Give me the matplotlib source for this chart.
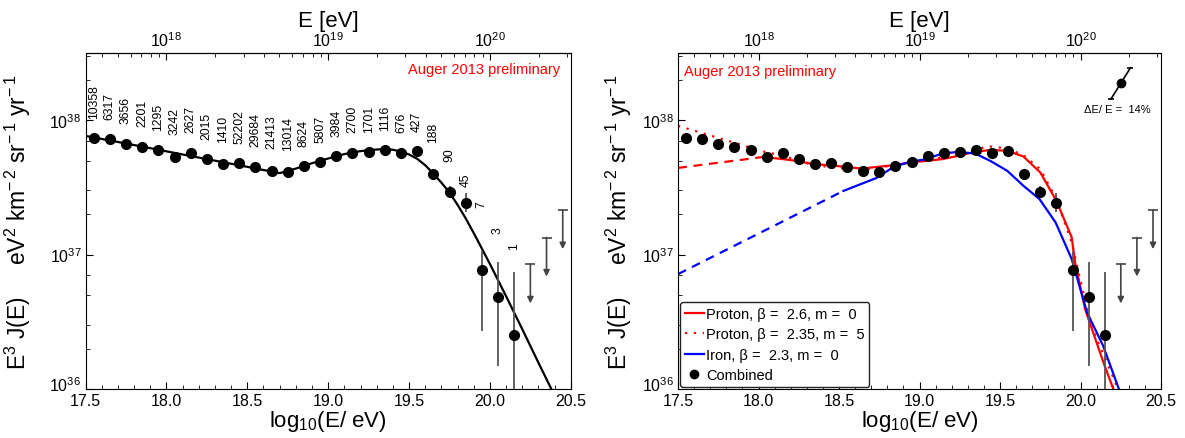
import numpy as np
import matplotlib.pyplot as plt
import matplotlib.transforms as mtransforms
from matplotlib.ticker import FixedLocator, NullFormatter
from matplotlib.lines import Line2D

plt.rcParams['font.family'] = ['Liberation Sans', 'DejaVu Sans']
plt.rcParams['mathtext.fontset'] = 'custom'
plt.rcParams['mathtext.rm'] = 'Liberation Sans'
plt.rcParams['mathtext.it'] = 'Liberation Sans:italic'

# combined spectrum: bin centres in log10(E/eV) and E^3 J(E)
log_e = [17.55, 17.65, 17.75, 17.85, 17.95, 18.05, 18.15, 18.25, 18.35,
         18.45, 18.55, 18.65, 18.75, 18.85, 18.95, 19.05, 19.15, 19.25,
         19.35, 19.45, 19.55, 19.65, 19.75, 19.85, 19.95, 20.05, 20.15]
flux = [7.35e37, 7.23e37, 6.64e37, 6.37e37, 5.98e37, 5.31e37, 5.75e37,
        5.11e37, 4.69e37, 4.79e37, 4.45e37, 4.18e37, 4.13e37, 4.53e37,
        4.88e37, 5.37e37, 5.75e37, 5.81e37, 6.01e37, 5.75e37, 5.85e37,
        3.97e37, 2.93e37, 2.44e37, 7.71e36, 4.83e36, 2.51e36]
# statistical errors, in decades
err_dn = [0.01, 0.01, 0.01, 0.01, 0.01, 0.01, 0.01, 0.01, 0.01, 0.01, 0.01,
          0.01, 0.01, 0.01, 0.01, 0.01, 0.01, 0.01, 0.01, 0.01, 0.01, 0.02,
          0.042, 0.074, 0.453, 0.511, 0.9]
err_up = [0.01, 0.01, 0.01, 0.01, 0.01, 0.01, 0.01, 0.01, 0.01, 0.01, 0.01,
          0.01, 0.01, 0.01, 0.01, 0.01, 0.01, 0.01, 0.01, 0.01, 0.01, 0.02,
          0.043, 0.074, 0.141, 0.262, 0.469]
n_events = ['10358', '6317', '3656', '2201', '1295', '3242', '2627', '2015',
            '1410', '52202', '29684', '21413', '13014', '8624', '5807',
            '3984', '2700', '1701', '1116', '676', '427', '188', '90', '45',
            '7', '3', '1']
# height of the count labels above each point (decades)
label_off = [0.15, 0.15, 0.16, 0.15, 0.15, 0.17, 0.15, 0.15, 0.17, 0.15,
             0.16, 0.17, 0.16, 0.15, 0.15, 0.15, 0.15, 0.15, 0.15, 0.15,
             0.15, 0.24, 0.23, 0.12, 0.47, 0.48, 0.64]

# upper limits
ul_e = [20.25, 20.35, 20.45]
ul_flux = [8.45e36, 1.34e37, 2.14e37]

# fitted spectrum (left)
fit_e = [17.5, 17.7, 17.9, 18.1, 18.3, 18.5, 18.7, 18.8, 18.9, 19.0, 19.1,
         19.2, 19.3, 19.35, 19.4, 19.45, 19.5, 19.55, 19.6, 19.65, 19.7,
         19.75, 19.8, 19.85, 19.9, 19.95, 20.0, 20.1, 20.2, 20.3, 20.4]
fit_log = [37.883, 37.838, 37.792, 37.745, 37.699, 37.653, 37.606, 37.640,
           37.680, 37.715, 37.748, 37.770, 37.782, 37.785, 37.780, 37.767,
           37.745, 37.713, 37.665, 37.603, 37.535, 37.462, 37.370, 37.270,
           37.160, 37.045, 36.930, 36.690, 36.445, 36.195, 35.950]

# model fits (right)
p26_ext_e = [17.5, 17.7, 17.9, 18.03]
p26_ext_log = [37.645, 37.676, 37.706, 37.727]
p26_e = [18.03, 18.14, 18.24, 18.34, 18.44, 18.54, 18.64, 18.74, 18.84,
         18.94, 19.04, 19.14, 19.24, 19.31, 19.345, 19.44, 19.545, 19.645,
         19.75, 19.85, 19.945, 19.966, 20.028, 20.142, 20.25]
p26_log = [37.727, 37.712, 37.697, 37.673, 37.665, 37.653, 37.640, 37.653,
           37.665, 37.685, 37.697, 37.710, 37.735, 37.755, 37.764, 37.779,
           37.772, 37.730, 37.611, 37.400, 37.128, 36.942, 36.595, 36.198,
           35.850]
p235_e = [17.5, 18.04, 18.14, 18.34, 18.64, 18.84, 19.14, 19.345, 19.44,
          19.545, 19.645, 19.75, 19.85, 19.945, 19.997, 20.07, 20.19, 20.25]
p235_log = [37.958, 37.764, 37.740, 37.665, 37.628, 37.665, 37.722, 37.784,
            37.804, 37.789, 37.740, 37.636, 37.413, 37.090, 36.818, 36.459,
            36.124, 35.950]
fe_ext_e = [17.5, 18.527]
fe_ext_log = [36.855, 37.474]
fe_e = [18.527, 18.73, 18.84, 18.94, 19.04, 19.14, 19.24, 19.345, 19.44,
        19.545, 19.645, 19.745, 19.845, 19.945, 20.04, 20.14, 20.235, 20.3]
fe_log = [37.474, 37.569, 37.653, 37.690, 37.710, 37.752, 37.764, 37.752,
          37.697, 37.623, 37.512, 37.413, 37.239, 36.967, 36.570, 36.322,
          36.010, 35.800]

# energy-scale systematic marker
sys_e = [20.19, 20.25, 20.31]
sys_log = [38.16, 38.275, 38.39]


def pw(vals):
    return [10 ** v for v in vals]


def style_axes(ax, ylab_x):
    ax.set_xlim(17.5, 20.5)
    ax.set_yscale('log')
    ax.set_ylim(1e36, 10 ** 38.5)
    ax.xaxis.set_major_locator(FixedLocator([17.5, 18.0, 18.5, 19.0, 19.5, 20.0, 20.5]))
    ax.xaxis.set_minor_locator(FixedLocator(np.arange(17.5, 20.51, 0.1)))
    ax.set_xticklabels(['17.5', '18.0', '18.5', '19.0', '19.5', '20.0', '20.5'])
    ax.yaxis.set_major_locator(FixedLocator([1e36, 1e37, 1e38]))
    ax.set_yticklabels([r'10$^{36}$', r'10$^{37}$', r'10$^{38}$'])
    minors = [k * 10.0 ** n for n in (36, 37, 38) for k in (2, 3, 5, 7)]
    ax.yaxis.set_minor_locator(FixedLocator(minors))
    ax.yaxis.set_minor_formatter(NullFormatter())
    ax.tick_params(which='both', direction='in', top=False, right=False,
                   labelsize=11.5, pad=3)
    ax.tick_params(which='major', length=5)
    ax.tick_params(which='minor', length=3)
    # lift the bottom-corner label a little, as in the original
    lab = ax.get_yticklabels()[0]
    lab.set_transform(lab.get_transform() + mtransforms.ScaledTranslation(
        0, 4 / 72, ax.figure.dpi_scale_trans))
    ax.set_xlabel(r'log$_{10}$(E/ eV)', fontsize=16, labelpad=0)
    ax.set_ylabel(r'E$^3$ J(E)     eV$^2$ km$^{-\,2}$ sr$^{-\,1}$ yr$^{-\,1}$',
                  fontsize=16.5)
    ax.yaxis.set_label_coords(ylab_x, 0.5)

    top = ax.secondary_xaxis('top')
    top.set_xticks([18, 19, 20])
    top.set_xticklabels([r'10$^{18}$', r'10$^{19}$', r'10$^{20}$'])
    top_minor = [n + np.log10(k) for n in (17, 18, 19, 20) for k in range(2, 10)]
    top_minor = [t for t in top_minor if 17.5 <= t <= 20.5]
    top.xaxis.set_minor_locator(FixedLocator(top_minor))
    top.tick_params(which='both', direction='in', labelsize=11.5, pad=3)
    top.tick_params(which='major', length=5)
    top.tick_params(which='minor', length=3)
    top.set_xlabel('E [eV]', fontsize=16, labelpad=3)


def draw_data(ax):
    lo = [f - f * 10 ** -d for f, d in zip(flux, err_dn)]
    hi = [f * 10 ** u - f for f, u in zip(flux, err_up)]
    ax.errorbar(log_e, flux, yerr=[lo, hi], fmt='o', color='black', ms=7,
                ecolor='#555555', elinewidth=1.3, capsize=0, zorder=5)
    for x, f in zip(ul_e, ul_flux):
        ax.annotate('', xy=(x, f / 1.95), xytext=(x, f),
                    arrowprops=dict(arrowstyle='-|>', color='#444444',
                                    lw=1.2, mutation_scale=9,
                                    shrinkA=0, shrinkB=0))
        ax.plot([x], [f], marker='_', ms=7, mew=1.2, color='#444444')


fig = plt.figure(figsize=(11.85, 4.39), dpi=100)
ax1 = fig.add_axes([0.0722, 0.1116, 0.4095, 0.7654])
ax2 = fig.add_axes([0.5722, 0.1116, 0.4076, 0.7654])

# left panel
style_axes(ax1, -0.108)
ax1.plot(fit_e, pw(fit_log), color='black', lw=1.6, zorder=4)
draw_data(ax1)
for x, f, n, off in zip(log_e, flux, n_events, label_off):
    ax1.text(x, f * 10 ** off, n, rotation=90, ha='center', va='bottom',
             fontsize=8.7)
ax1.text(0.978, 0.952, 'Auger 2013 preliminary', color='red', fontsize=10.5,
         ha='right', va='center', transform=ax1.transAxes)

# right panel
style_axes(ax2, -0.092)
ax2.plot(p26_ext_e, pw(p26_ext_log), color='red', lw=1.6, ls=(0, (4, 3)))
ax2.plot(p26_e, pw(p26_log), color='red', lw=1.6)
ax2.plot(p235_e, pw(p235_log), color='red', lw=1.6, ls=(0, (1, 3)))
ax2.plot(fe_ext_e, pw(fe_ext_log), color='blue', lw=1.6, ls=(0, (4, 3)))
ax2.plot(fe_e, pw(fe_log), color='blue', lw=1.6)
draw_data(ax2)
ax2.plot(sys_e, pw(sys_log), color='black', lw=1.2)
ax2.plot([sys_e[0], sys_e[2]], [10 ** sys_log[0], 10 ** sys_log[2]],
         ls='none', marker='_', ms=5, mew=1.2, color='black')
ax2.plot([sys_e[1]], [10 ** sys_log[1]], 'o', color='black', ms=6)
ax2.text(sys_e[1] - 0.02, 10 ** (sys_log[0] - 0.08), 'ΔE/ E =  14%',
         fontsize=8, ha='center', va='center')
ax2.text(0.012, 0.946, 'Auger 2013 preliminary', color='red', fontsize=10.5,
         ha='left', va='center', transform=ax2.transAxes)

handles = [Line2D([], [], color='red', lw=1.6),
           Line2D([], [], color='red', lw=1.6, ls=(0, (1, 3))),
           Line2D([], [], color='blue', lw=1.6),
           Line2D([], [], color='black', marker='o', ls='none', ms=6)]
labels = ['Proton, β =  2.6, m =  0', 'Proton, β =  2.35, m =  5',
          'Iron, β =  2.3, m =  0', 'Combined']
ax2.legend(handles, labels, loc='lower left', fontsize=10.5,
           handlelength=1.3, handletextpad=0.2, borderaxespad=0.15,
           labelspacing=0.45, borderpad=0.3, framealpha=1,
           edgecolor='#222222', fancybox=True)

fig.savefig('out.png', dpi=100)
